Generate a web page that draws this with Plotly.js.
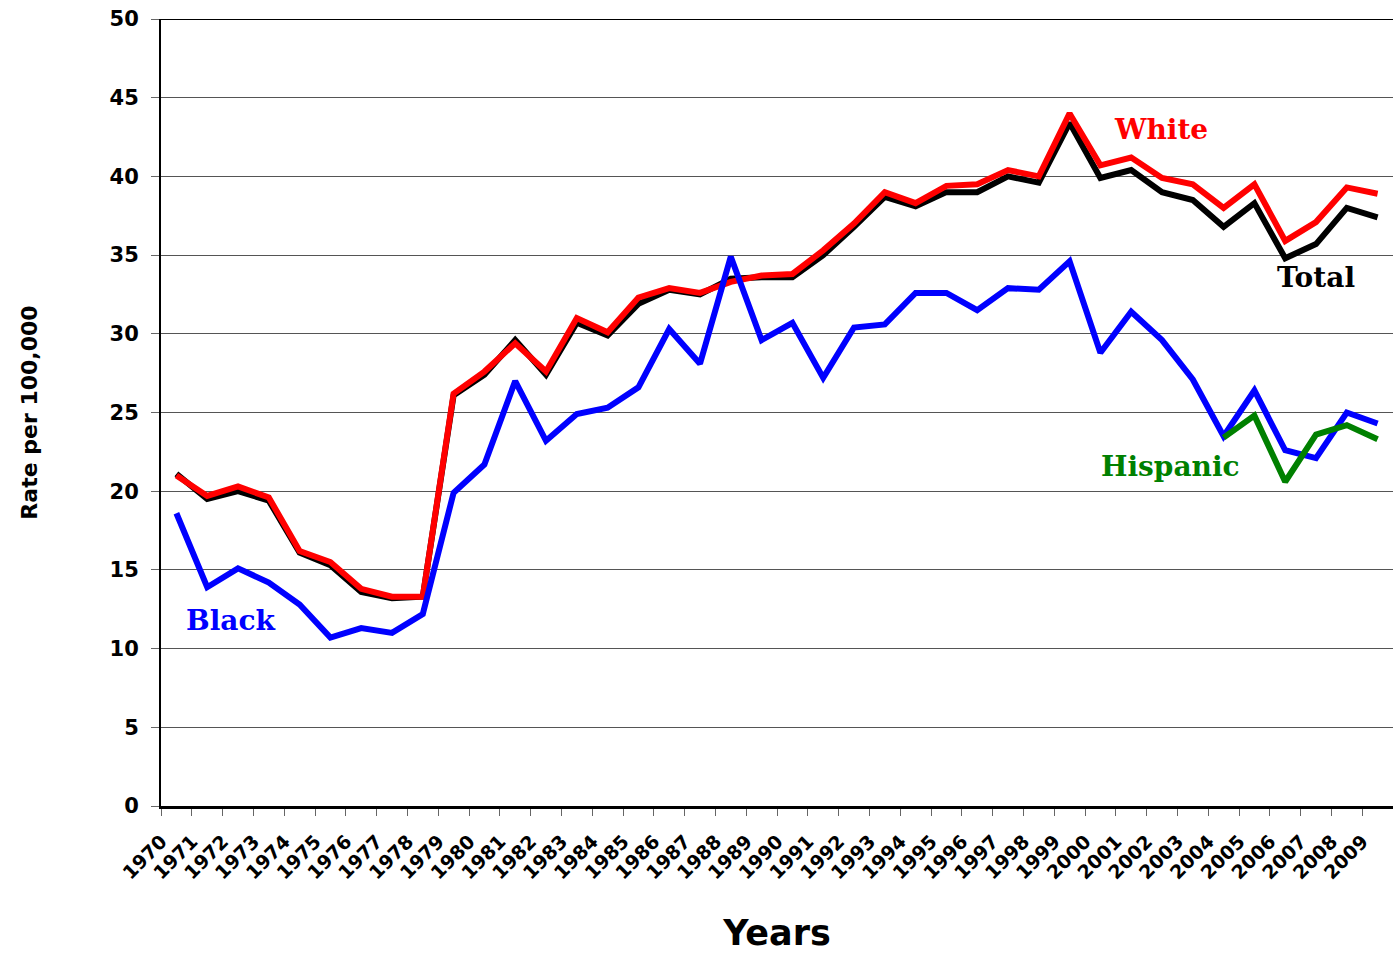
<!DOCTYPE html>
<html>
<head>
<meta charset="utf-8">
<script src="https://cdn.plot.ly/plotly-3.0.1.min.js"></script>
<style>html,body{margin:0;padding:0;background:#fff;}#chart{width:1393px;height:953px;}</style>
</head>
<body>
<div id="chart"></div>
<script>
const years = ["1970","1971","1972","1973","1974","1975","1976","1977","1978","1979",
  "1980","1981","1982","1983","1984","1985","1986","1987","1988","1989",
  "1990","1991","1992","1993","1994","1995","1996","1997","1998","1999",
  "2000","2001","2002","2003","2004","2005","2006","2007","2008","2009"];

const totalRate = [21.1,19.5,20.0,19.4,16.1,15.3,13.6,13.2,13.3,26.1,
  27.4,29.6,27.4,30.7,29.9,31.9,32.8,32.5,33.5,33.6,
  33.6,35.0,36.8,38.7,38.1,39.0,39.0,40.0,39.6,43.4,
  39.9,40.4,39.0,38.5,36.8,38.3,34.8,35.7,38.0,37.4];

const whiteRate = [21.0,19.7,20.3,19.6,16.2,15.5,13.8,13.3,13.3,26.2,
  27.6,29.4,27.6,31.0,30.1,32.3,32.9,32.6,33.3,33.7,
  33.8,35.3,37.0,39.0,38.3,39.4,39.5,40.4,40.0,44.0,
  40.7,41.2,39.9,39.5,38.0,39.5,35.9,37.1,39.3,38.9];

const blackRate = [18.6,13.9,15.1,14.2,12.8,10.7,11.3,11.0,12.2,19.9,
  21.7,27.0,23.2,24.9,25.3,26.6,30.3,28.1,34.9,29.6,
  30.7,27.2,30.4,30.6,32.6,32.6,31.5,32.9,32.8,34.6,
  28.8,31.4,29.6,27.1,23.5,26.4,22.6,22.1,25.0,24.3];

const hispanicRate = [null,null,null,null,null,null,null,null,null,null,
  null,null,null,null,null,null,null,null,null,null,
  null,null,null,null,null,null,null,null,null,null,
  null,null,null,null,23.4,24.8,20.6,23.6,24.2,23.3];

const seriesNames = ["Total","White","Black","Hispanic"];
const seriesColors = ["#000000","#ff0000","#0000ff","#008000"];
const seriesData = [totalRate, whiteRate, blackRate, hispanicRate];

const yTickVals = [0,5,10,15,20,25,30,35,40,45,50];

const traces = seriesData.map((d, i) => ({
  type: "scatter",
  mode: "lines",
  name: seriesNames[i],
  x: years,
  y: d,
  connectgaps: false,
  line: {color: seriesColors[i], width: 6},
  hoverinfo: "x+y+name"
}));

const labelFont = (c) => ({family: "DejaVu Serif", size: 28, color: c, weight: "bold"});
const lab = (t, x, y, c) => ({text: t, xref: "paper", yref: "paper", x: x, y: y,
  xanchor: "center", yanchor: "middle", showarrow: false, font: labelFont(c)});

const layout = {
  width: 1393,
  height: 953,
  margin: {l: 161, r: 0, t: 19, b: 147},
  paper_bgcolor: "#ffffff",
  plot_bgcolor: "#ffffff",
  showlegend: false,
  font: {family: "DejaVu Sans", color: "#000"},
  xaxis: {
    type: "category",
    tickson: "boundaries",
    ticks: "outside",
    ticklen: 7,
    tickcolor: "#666",
    tickwidth: 1,
    showgrid: false,
    showline: true,
    linecolor: "#000",
    linewidth: 3,
    tickangle: -45,
    tickfont: {family: "DejaVu Sans", size: 19, color: "#000", weight: "bold"},
    ticklabelstandoff: 14,
    ticklabelshift: -15,
    range: [-0.5, 39.5],
    title: {text: "Years", font: {family: "DejaVu Sans", size: 35, color: "#000", weight: "bold"}, standoff: 44}
  },
  yaxis: {
    range: [0, 50],
    tickvals: yTickVals,
    ticktext: yTickVals.map(String),
    ticks: "outside",
    ticklen: 8,
    tickcolor: "#666",
    showgrid: true,
    gridcolor: "#555",
    gridwidth: 1,
    showline: true,
    linecolor: "#000",
    linewidth: 2,
    zeroline: false,
    tickfont: {family: "DejaVu Sans", size: 21, color: "#000", weight: "bold"},
    ticklabelstandoff: 8,
    title: {text: "Rate per 100,000", font: {family: "DejaVu Sans", size: 22, color: "#000", weight: "bold"}, standoff: 66}
  },
  shapes: [
    {type: "line", xref: "paper", yref: "y", x0: 0, x1: 1, y0: 50, y1: 50, line: {color: "#000", width: 2}}
  ],
  annotations: [
    lab("White", 0.8117, 0.859, "#ff0000"),
    lab("Total", 0.9375, 0.671, "#000000"),
    lab("Black", 0.0568, 0.2363, "#0000ff"),
    lab("Hispanic", 0.819, 0.432, "#008000")
  ]
};

Plotly.newPlot("chart", traces, layout, {displayModeBar: false, responsive: false});
</script>
</body>
</html>
